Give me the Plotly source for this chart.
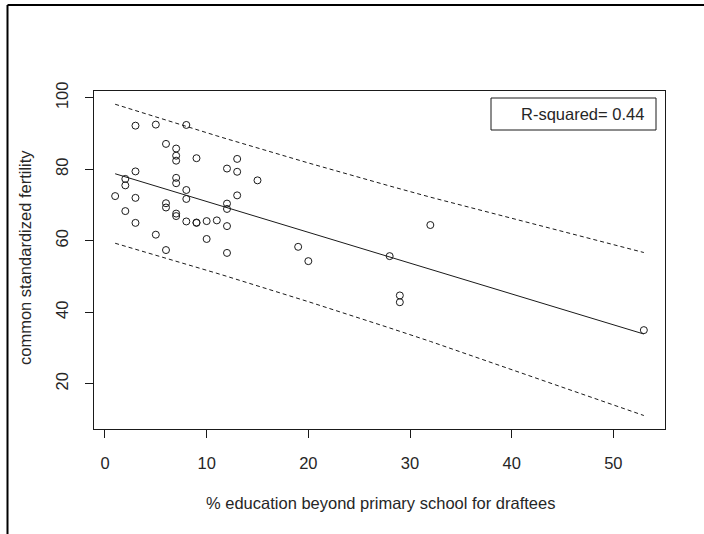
import numpy as np
import plotly.graph_objects as go

# Swiss fertility and education, 1888 (47 French-speaking provinces)
education = [12, 9, 5, 7, 15, 7, 7, 8, 7, 13, 6, 12, 7, 12, 5, 2, 8, 28, 20, 9,
             10, 3, 12, 6, 1, 8, 3, 10, 19, 8, 2, 6, 2, 6, 3, 9, 3, 13, 12, 11,
             13, 32, 7, 7, 53, 29, 29]
fertility = [80.2, 83.1, 92.5, 85.8, 76.9, 76.1, 83.8, 92.4, 82.4, 82.9, 87.1,
             64.1, 66.9, 68.9, 61.7, 68.3, 71.7, 55.7, 54.3, 65.1, 65.5, 65.0,
             56.6, 57.4, 72.5, 74.2, 72.0, 60.5, 58.3, 65.4, 75.5, 69.3, 77.3,
             70.5, 79.4, 65.0, 92.2, 79.3, 70.4, 65.7, 72.7, 64.4, 77.6, 67.6,
             35.0, 44.7, 42.8]
x_ticks = [0, 10, 20, 30, 40, 50]
y_ticks = [20, 40, 60, 80, 100]
legend_text = "R-squared= 0.44"
T_975_45 = 2.014103  # t quantile for 95% prediction band, 45 df

# least-squares fit and 95% prediction band
x = np.array(education, dtype=float)
y = np.array(fertility, dtype=float)
n = len(x)
b1, b0 = np.polyfit(x, y, 1)
resid = y - (b0 + b1 * x)
s = np.sqrt(np.sum(resid ** 2) / (n - 2))
sxx = np.sum((x - x.mean()) ** 2)
xs = np.unique(x)
fit = b0 + b1 * xs
half = T_975_45 * s * np.sqrt(1 + 1 / n + (xs - x.mean()) ** 2 / sxx)
upper = fit + half
lower = fit - half

W, H = 704, 534
L, R, T, B = 94, 39, 91, 105
pw, ph = W - L - R, H - T - B


def px(xp):
    return (xp - L) / pw


def py(yp):
    return 1 - (yp - T) / ph


ink = "#1a1a1a"
font = dict(family="Liberation Sans, Arial, sans-serif", size=16.5, color="#262626")

fig = go.Figure()
fig.add_trace(go.Scatter(x=xs, y=upper, mode="lines",
                         line=dict(color=ink, width=1, dash="4px,3px"), hoverinfo="skip"))
fig.add_trace(go.Scatter(x=xs, y=lower, mode="lines",
                         line=dict(color=ink, width=1, dash="4px,3px"), hoverinfo="skip"))
fig.add_trace(go.Scatter(x=xs, y=fit, mode="lines",
                         line=dict(color=ink, width=1), hoverinfo="skip"))
fig.add_trace(go.Scatter(x=education, y=fertility, mode="markers",
                         marker=dict(symbol="circle-open", size=7, color=ink,
                                     line=dict(width=1, color=ink))))

axis_common = dict(showgrid=False, zeroline=False, showline=True, mirror=True,
                   linecolor=ink, linewidth=1, ticks="outside", ticklen=8,
                   tickcolor=ink, tickwidth=1, tickfont=font)
fig.update_xaxes(range=[-1.08, 55.08], tickvals=x_ticks, ticklabelstandoff=11,
                 **axis_common)
fig.update_yaxes(range=[7.33, 101.9], tickvals=y_ticks, tickangle=-90,
                 ticklabelstandoff=10, **axis_common)

shapes = [
    # outer frame edges
    dict(type="line", xref="paper", yref="paper", x0=px(7.5), x1=px(W + 5),
         y0=py(5), y1=py(5), line=dict(color="black", width=2)),
    dict(type="line", xref="paper", yref="paper", x0=px(7.5), x1=px(7.5),
         y0=py(5), y1=py(H + 5), line=dict(color="black", width=2)),
    # legend box
    dict(type="rect", xref="paper", yref="paper", x0=px(491), x1=px(656),
         y0=py(130), y1=py(98), line=dict(color=ink, width=1), fillcolor="white"),
]

annotations = [
    dict(text=legend_text, xref="paper", yref="paper", x=px(646), y=py(114),
         xanchor="right", yanchor="middle", showarrow=False, font=font),
    dict(text="% education beyond primary school for draftees", xref="paper",
         yref="paper", x=px(380), y=py(503), xanchor="center", yanchor="middle",
         showarrow=False, font=font),
    dict(text="common standardized fertility", xref="paper", yref="paper",
         x=px(25), y=py(258), xanchor="center", yanchor="middle", textangle=-90,
         showarrow=False, font=font),
]

fig.update_layout(width=W, height=H, margin=dict(l=L, r=R, t=T, b=B),
                  paper_bgcolor="white", plot_bgcolor="white", showlegend=False,
                  shapes=shapes, annotations=annotations)

fig.write_html("out.html")
